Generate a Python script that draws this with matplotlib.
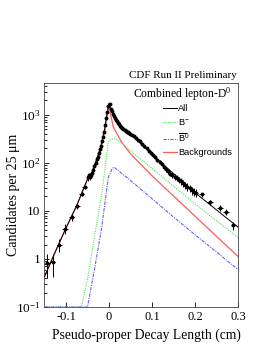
import numpy as np
import matplotlib
matplotlib.use("Agg")
import matplotlib.pyplot as plt

plt.rcParams['font.family'] = ['Liberation Serif', 'DejaVu Serif']
plt.rcParams['mathtext.fontset'] = 'custom'
plt.rcParams['mathtext.rm'] = 'Liberation Serif'
plt.rcParams['mathtext.it'] = 'Liberation Serif:italic'
plt.rcParams['mathtext.sf'] = 'Liberation Sans'

# data points (cm, candidates per 25 um), rebinned tails have wider bins
wide_x = [-0.1435, -0.131, -0.1155, -0.1023, -0.0868, -0.0737, -0.0635, -0.056,
          0.2155, 0.235, 0.258, 0.272, 0.289]
wide_y = [0.82, 0.85, 2.0, 4.3, 7.4, 12.6, 23, 31,
          22, 15, 11.7, 9.5, 5.0]
wide_err = [0.42, 0.42, 0.63, 0.93, 1.2, 1.6, 2.1, 2.5,
            2.1, 1.7, 1.5, 1.4, 1.0]

fine_x = [-0.04875, -0.04625, -0.04375, -0.04125, -0.03875, -0.03625, -0.03375,
          -0.03125, -0.02875, -0.02625, -0.02375, -0.02125, -0.01875, -0.01625,
          -0.01375, -0.01125, -0.00875, -0.00625, -0.00375, -0.00125,
          0.00125, 0.00375, 0.00625, 0.00875, 0.01125, 0.01375, 0.01625, 0.01875,
          0.02125, 0.02375, 0.02625, 0.02875, 0.03125, 0.03375, 0.03625, 0.03875,
          0.04125, 0.04375, 0.04625, 0.04875, 0.0525, 0.0575, 0.0625, 0.0675,
          0.0725, 0.0775, 0.0825, 0.0875, 0.0925, 0.0975, 0.1025, 0.1075,
          0.1125, 0.1175, 0.1225, 0.1275, 0.1325, 0.1375, 0.1425, 0.1475,
          0.1525, 0.1575, 0.1625, 0.1675, 0.1725, 0.1775, 0.1825, 0.1875,
          0.1925, 0.1975, 0.2025]
fine_y = [50, 55, 52, 56, 62, 72, 86,
          100, 118, 135, 160, 190, 225, 280,
          350, 450, 620, 850, 1150, 1500,
          1700, 1350, 1200, 1050, 950, 880, 800, 740,
          690, 640, 590, 560, 530, 510, 480, 470,
          440, 430, 410, 400, 380, 355, 330, 300,
          280, 250, 220, 200, 180, 160, 145, 135,
          115, 105, 95, 82, 74, 68, 60, 56,
          52, 48, 44, 41, 38, 35, 32, 30,
          27, 25, 24]

# fit components
all_x = [-0.15, -0.125, -0.1, -0.075, -0.05, -0.04, -0.03, -0.02, -0.01, -0.005,
         0.0, 0.005, 0.01, 0.02, 0.03, 0.05, 0.1, 0.15, 0.2, 0.25, 0.3]
all_y = [0.43, 1.4, 4.4, 13, 46, 62, 110, 205, 520, 1000,
         1750, 1250, 1000, 740, 570, 400, 150, 60, 24, 10.5, 4.6]

bkg_x = [-0.15, -0.125, -0.1, -0.075, -0.05, -0.04, -0.03, -0.02, -0.01, -0.005,
         0.0, 0.005, 0.01, 0.02, 0.03, 0.05, 0.1, 0.15, 0.2, 0.25, 0.3]
bkg_y = [0.43, 1.4, 4.4, 13, 46, 61, 106, 188, 450, 880,
         1650, 900, 560, 380, 265, 155, 54, 20.5, 7.8, 2.95, 1.13]

# below the axis floor ROOT draws the curve on the floor (0.1)
bminus_x = [-0.15, -0.064, -0.048, -0.033, -0.017, -0.0016, 0.006, 0.015,
            0.03, 0.05, 0.1, 0.15, 0.2, 0.25, 0.3]
bminus_y = [0.1, 0.1, 0.47, 3.2, 22, 270, 316, 320,
            255, 180, 77, 33, 14, 6.3, 2.8]

bzero_x = [-0.15, -0.05, -0.033, -0.017, -0.0016, 0.008, 0.013,
           0.05, 0.1, 0.15, 0.2, 0.25, 0.3]
bzero_y = [0.1, 0.1, 0.66, 4.5, 50, 78, 80,
           43, 18, 7.5, 3.2, 1.4, 0.6]

ytick_vals = [0.1, 1, 10, 100, 1000]
ytick_labels = ['$10^{-1}$', '1', '10', '$10^{2}$', '$10^{3}$']
xtick_vals = [-0.1, 0, 0.1, 0.2, 0.3]
xtick_labels = ['-0.1', '0', '0.1', '0.2', '0.3']

fig = plt.figure(figsize=(2.68, 3.46), dpi=100)
ax = fig.add_axes([0.166, 0.1127, 0.722, 0.6474])
ax.set_yscale('log')
ax.set_xlim(-0.15, 0.3)
ax.set_ylim(0.1, 4600)

l_bkg, = ax.plot(bkg_x, bkg_y, color='#ff5a5a', lw=0.9, zorder=3)
l_all, = ax.plot(all_x, all_y, color='black', lw=0.7, zorder=3.5)
l_bm, = ax.plot(bminus_x, bminus_y, color='#55e055', lw=0.8, ls=(0, (1, 1)), zorder=3)
l_b0, = ax.plot(bzero_x, bzero_y, color='#6060ff', lw=0.8, ls=(0, (3, 1, 1, 1)), zorder=3)

ax.errorbar(fine_x, fine_y, yerr=np.sqrt(fine_y), xerr=0.00125, fmt='o', ms=1.8,
            color='black', elinewidth=0.7, capsize=0, zorder=4)
ax.errorbar(wide_x, wide_y, yerr=wide_err, xerr=0.006, fmt='o', ms=1.8,
            color='black', elinewidth=0.7, capsize=0, zorder=4)

ax.set_xticks(xtick_vals, labels=xtick_labels)
ax.set_yticks(ytick_vals, labels=ytick_labels)
ax.tick_params(which='both', direction='in', labelsize=9, pad=3)
ax.tick_params(which='major', length=3.6, width=0.6)
ax.tick_params(which='minor', length=1.8, width=0.6)
ax.tick_params(axis='y', labelsize=9.5)
for s in ax.spines.values():
    s.set_linewidth(0.6)
    s.set_color('#444444')

ax.set_xlabel('Pseudo-proper Decay Length (cm)', fontsize=9.8)
ax.xaxis.set_label_coords(0.525, -0.098)
ax.set_ylabel('Candidates per 25 \u03bcm', fontsize=10)
ax.yaxis.set_label_coords(-0.127, 0.5)

fig.text(237 / 268, 1 - 76 / 346, 'CDF Run II Preliminary', ha='right', va='center',
         fontsize=7.9)
fig.text(182 / 268, 1 - 94 / 346, 'Combined lepton-D$^{0}$', ha='center', va='center',
         fontsize=8.4)

ax.legend([l_all, l_bm, l_b0, l_bkg],
          ['All', '$\\mathsf{B}^{\\mathsf{-}}$', '$\\overline{\\mathsf{B}}^{\\mathsf{0}}$',
           'Backgrounds'],
          loc='upper left', bbox_to_anchor=(163 / 268, 1 - 104 / 346),
          bbox_transform=fig.transFigure, frameon=False, borderpad=0,
          borderaxespad=0, handlelength=1.5, handletextpad=0.15, labelspacing=0.45,
          prop={'family': 'Liberation Sans', 'size': 6.7})

fig.savefig('out.png', dpi=100)
